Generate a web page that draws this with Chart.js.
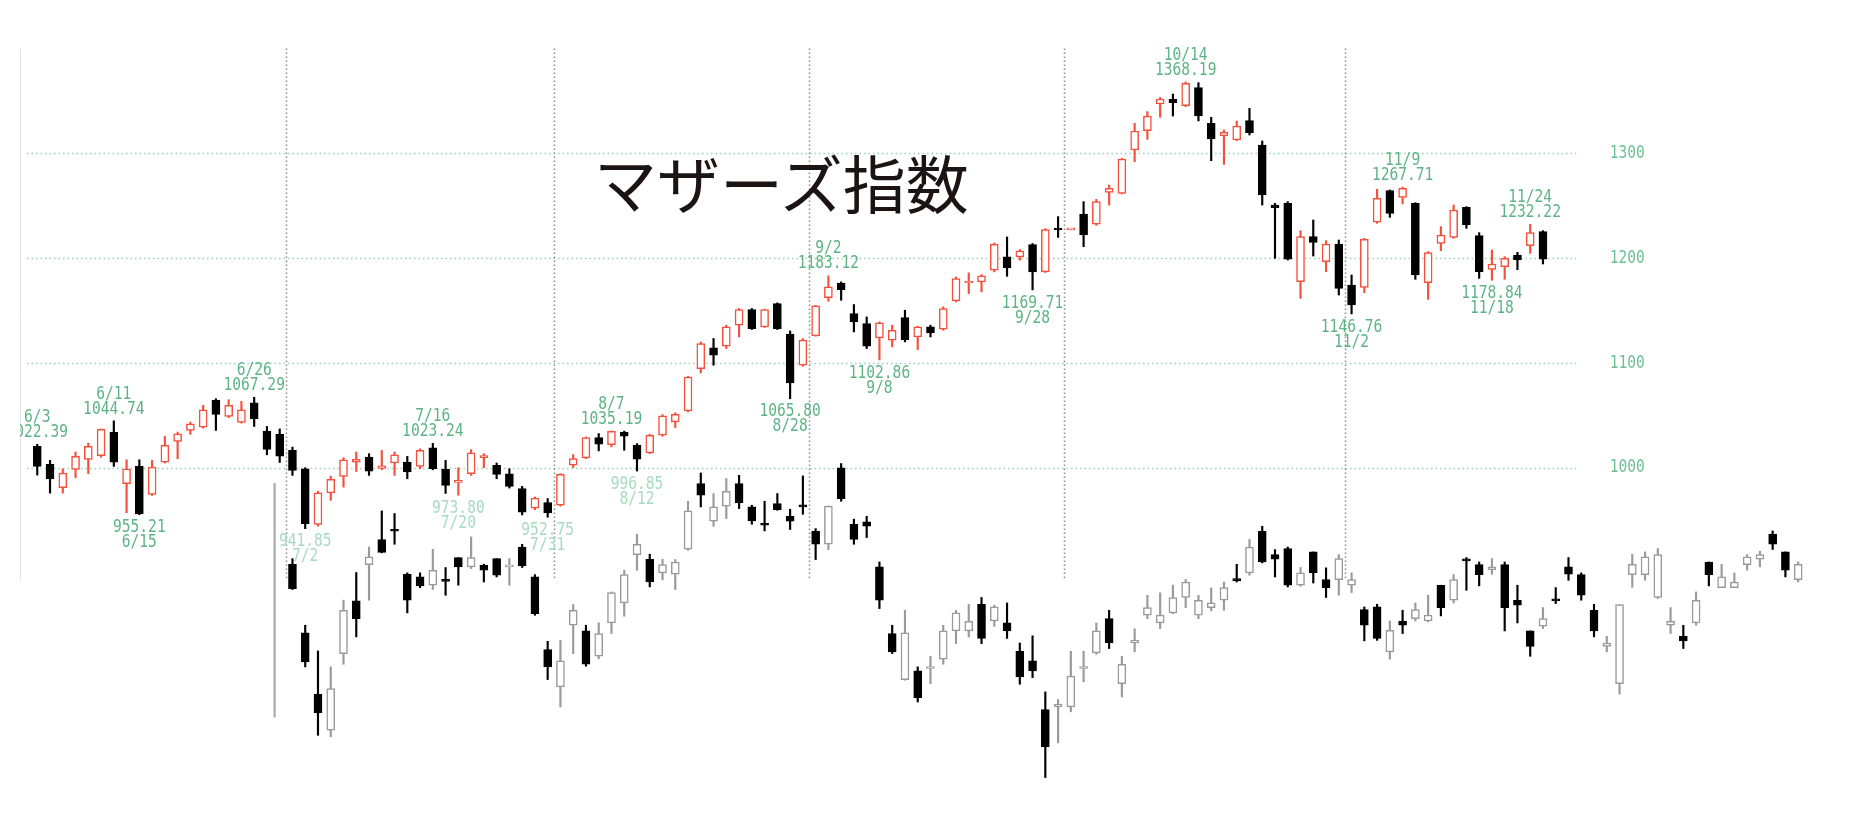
<!DOCTYPE html>
<html lang="ja">
<head>
<meta charset="utf-8">
<title>マザーズ指数</title>
<script src="https://cdn.jsdelivr.net/npm/chart.js@4.4.1/dist/chart.umd.min.js"></script>
<style>
  html, body { margin: 0; padding: 0; background: #fff; }
  #wrap { position: relative; width: 1851px; height: 816px; }
  #title {
    position: absolute; left: 594px; top: 149px;
    font: 400 63px "Noto Sans CJK JP", sans-serif; line-height: 1;
    color: #1c1414; white-space: nowrap;
  }
</style>
</head>
<body>
<div id="wrap">
  <canvas id="chart" width="1851" height="816"></canvas>
  <div id="title">マザーズ指数</div>
</div>
<script>
// マザーズ指数 日足 (2020/6/3 - 11/25)
const dates = [
  '6/3','6/4','6/5','6/8','6/9','6/10','6/11','6/12','6/15','6/16','6/17','6/18','6/19','6/22','6/23','6/24','6/25','6/26','6/29','6/30',
  '7/1','7/2','7/3','7/6','7/7','7/8','7/9','7/10','7/13','7/14','7/15','7/16','7/17','7/20','7/21','7/22','7/27','7/28','7/29','7/30','7/31',
  '8/3','8/4','8/5','8/6','8/7','8/11','8/12','8/13','8/14','8/17','8/18','8/19','8/20','8/21','8/24','8/25','8/26','8/27','8/28','8/31',
  '9/1','9/2','9/3','9/4','9/7','9/8','9/9','9/10','9/11','9/14','9/15','9/16','9/17','9/18','9/23','9/24','9/25','9/28','9/29','9/30',
  '10/1','10/2','10/5','10/6','10/7','10/8','10/9','10/12','10/13','10/14','10/15','10/16','10/19','10/20','10/21','10/22','10/23','10/26','10/27','10/28','10/29','10/30',
  '11/2','11/4','11/5','11/6','11/9','11/10','11/11','11/12','11/13','11/16','11/17','11/18','11/19','11/20','11/24','11/25'
];
const opens = [
  1020.4,1003.2,980.9,998.4,1008,1011.5,1033.7,984.7,1001.3,974.6,1005.4,1025.1,1035.6,1038.8,1064.2,1049,1043.3,1062,1035,1031.8,
  1016.5,999,946,976,991.7,1005.4,1010.2,999.4,1004.5,1005.4,1001.3,1019.1,998.4,986,994.3,1009.5,1002.2,994.3,980,961.5,966.8,
  964.2,1002.4,1009.4,1028.8,1022.1,1033.8,1021.5,1014.2,1031,1043.7,1054.2,1094.6,1114.3,1116,1136,1151,1134.4,1156.6,1127.4,1097.8,
  1125.8,1162.3,1176.3,1147,1137.6,1123.9,1121.7,1143.3,1124.8,1134.4,1132.2,1159.2,1176.3,1177.3,1188.4,1201.2,1201.2,1212.9,1186.9,1227.5,
  1227,1242.1,1232.3,1262.8,1261.8,1303.2,1321.6,1347.1,1351.5,1345.5,1362.7,1328.6,1316.5,1312.7,1331.2,1307.9,1250.7,1252.3,1177.5,1220.5,1196.6,1213.5,
  1174.4,1172.1,1234.2,1264.4,1258,1252.3,1176.6,1214.1,1219.8,1248.5,1221.4,1189.3,1191.9,1203,1211.9,1225.3
];
const highs = [
  1022.39,1007,999,1015,1023.5,1037,1044.74,1007.6,1007.6,1007,1029.9,1034,1043.6,1059.5,1065.8,1064.9,1063.3,1067.29,1039.4,1037,
  1019.7,1000,977.7,992,1009.5,1015,1013.4,1016.5,1015,1010.8,1018,1023.24,1007,1000,1017.2,1013.4,1004.5,999,982.2,972,970.6,
  994.4,1012.6,1029.4,1032.6,1035.19,1034.9,1023,1032,1050.7,1052.4,1087.3,1120,1123.3,1136,1151.9,1151.9,1151.3,1157.3,1130.5,1123.3,
  1155,1183.12,1177.3,1155.7,1143.9,1139.2,1136,1150.3,1135,1136,1153.5,1182.1,1186,1184.3,1214.5,1220.2,1208.2,1213.9,1228.2,1239.6,
  1227.5,1253.9,1256.1,1269.8,1295.2,1328.6,1339.8,1353.4,1356.6,1368.19,1367.4,1334.4,1322.3,1330.9,1342.9,1311.8,1252.3,1253.9,1226.2,1236.4,1216.7,1217.3,
  1183.9,1218.9,1265.6,1265,1267.71,1252.9,1206.2,1230,1250.7,1249.1,1224.3,1207.7,1201.4,1205.5,1232.22,1226.2
];
const lows = [
  993,975.8,975.8,990.5,994.3,1010,1001.3,957,955.21,973.6,1004.5,1008.6,1031.8,1037.8,1035.6,1047.7,1042.6,1039.4,1012.4,1005,
  992.7,941.85,944.3,968.8,981.5,996.5,992.7,998.1,992.7,989.5,999,998.1,975.5,973.8,992.7,1000,989.5,980.6,955,960,952.75,
  963.3,1000.2,1008.7,1016.1,1019.9,1016.7,996.85,1013.5,1030,1038.3,1053.3,1090.5,1097.8,1113.7,1124.8,1131.9,1133.8,1131.9,1065.8,1096.8,
  1125.5,1158.9,1159.8,1129.6,1113.7,1102.86,1115.3,1120.1,1112.7,1124.8,1131.2,1158.3,1166.2,1167.8,1186.9,1182.7,1198,1169.71,1186.3,1219.8,
  1227,1210.9,1231.3,1250.7,1261.2,1292,1313.4,1334.4,1335.6,1344.5,1330.9,1293,1289.5,1312.1,1317.5,1250.7,1199.8,1198.2,1161.6,1202,1187,1164.8,
  1146.76,1167,1233.2,1238.9,1251.7,1179.8,1160.7,1207.1,1218.9,1228.4,1180.7,1178.84,1179.8,1189,1204.6,1194.4
];
const closes = [
  1001.3,989.5,994.9,1010.8,1020.4,1036.6,1005.4,999,956,1000.6,1021.3,1032.4,1042,1055.3,1050.9,1059.5,1055.3,1046.8,1017.5,1011,
  997.5,946.6,976,988.9,1007.6,1008,996.8,1001.9,1012.4,995.9,1016.5,999,983.1,987,1014.3,1011.5,993.6,982.2,957.7,971,956.9,
  993.8,1008.7,1028.8,1022.4,1034.8,1030.1,1008.1,1031,1049.5,1051,1086.6,1118.5,1107.4,1134.4,1151,1132.8,1151,1132.8,1081,1121.7,
  1154.4,1172.5,1170,1139.2,1116,1138.2,1131.2,1122.3,1134.4,1128.7,1151.9,1180.5,1177.9,1183,1213.2,1190.7,1206.9,1186.9,1227.3,1226.8,
  1227.5,1222.1,1253.9,1266.6,1294.6,1321.3,1335.6,1351.8,1348.3,1366.8,1335.6,1313.7,1320,1326.1,1319.7,1260.2,1248.2,1198.9,1220.5,1215,1213.5,1171.2,
  1155.3,1217.9,1257.1,1242.7,1266.6,1183.9,1205.2,1222.1,1245.9,1231.6,1187.1,1194.4,1199.8,1198.2,1224.3,1198.9
];

// 注記 (高値・安値)
const notes = [
  ['6/3','high'],['6/11','high'],['6/15','low'],['6/26','high'],['7/2','low'],['7/16','high'],['7/20','low'],
  ['7/31','low'],['8/7','high'],['8/12','low'],['8/28','low'],['9/2','high'],['9/8','low'],['9/28','low'],
  ['10/14','high'],['11/2','low'],['11/9','high'],['11/18','low'],['11/24','high']
];
const yTicks = [1000, 1100, 1200, 1300];

// 重ねて写っている下側のローソク足 (目盛なし)
const subOpen = [
  907.9,842.4,783.9,749.5,822.7,872.9,907.6,931.5,940.4,898.4,895.8,887.9,893.1,914.3,905.4,907,913.3,905.4,924.4,895.8,
  826.5,790.9,849.7,844.3,820.1,851.9,871,917.1,912.7,899.7,898.4,922.2,984.9,949,963.3,984.9,962.6,946.7,965.8,953.7,
  963.6,939.4,927,999.8,946.1,948.3,905.4,841.8,797.9,806.1,808.4,817.3,844.3,844.3,869.7,853.8,851.9,824.9,815.7,769.3,
  771.8,771.8,808.4,823.3,856,794,832.8,859.3,852,861.5,876.2,859.3,866.6,873.6,894.2,899.7,939.4,917.1,922.9,887.9,
  919.7,893.3,893.3,887.9,864.7,867.2,824.3,853.8,856,853.8,887.9,873.6,912.7,907.6,902.8,907.6,873.6,844.3,848.9,874.3,
  905.4,898,864,829.6,794,898,898,876.2,849.7,839.2,851.9,910.1,885.6,885.6,907.6,912.7,936.6,919.7,893.3
];
const subHigh = [
  913.3,849.7,825.2,810,873.6,900,924.4,958.8,956.3,899.7,899.7,922.2,904.8,914.3,934,908,913.3,913.3,927,898,
  834.4,835.3,869.4,849.7,852,881.5,902.2,936.6,917.5,912.7,912.4,968,995,975.4,989.7,992.8,964.2,968,975.4,960.4,
  992.2,941.9,963.6,1004,950.9,953.7,910.1,849.7,864,810,820.1,849.7,864,869.7,876.2,868.8,871,832.8,839.6,786.1,
  778.8,824.9,824.9,851.9,864,820.1,846.4,878.3,880.6,888,893.3,878.3,885.3,891,907.9,931.5,944.2,921.9,924.4,904.8,
  919.7,904.5,917.1,899.7,867.2,869.7,853.8,864,871,878.3,887.9,898,914.3,910.1,913.3,910.1,887.9,844.3,866.6,885.6,
  914.3,899.7,869.7,839.2,869.4,917.5,919.7,922.9,866.6,849.7,881.5,910.1,907.9,899.7,917.1,920.3,939.7,919.7,910.1
];
const subLow = [
  883.8,810,744.7,743.2,812.5,838.6,873.6,918.8,927,861.5,885.6,883.8,878.3,887.9,903.8,891,895.8,887.9,904.8,859.2,
  797.9,771.7,822.7,810.6,817.9,841.8,858.3,902.2,886.3,893,883.8,921.3,962.6,944.2,951.5,961,946.1,939.7,959.4,941.1,
  955.6,912.4,921.9,968,927,933.4,865.6,822.7,797.3,776.5,794,812.5,832.2,838.6,832.2,848.7,837.1,793.4,799.8,704.4,
  737.5,767.1,795.7,822,827.5,781.3,824.3,856,846.5,860.8,866.6,856,863.4,864,891,897.4,909.2,895.8,886.3,886.9,
  890,876.2,878.3,880.9,834.8,835.3,817.3,841.8,853.8,852.9,858.6,871,883.1,887.3,898.4,844.3,851.9,820.1,846.5,870.4,
  892.6,873.6,838.6,824.3,784,885.9,892.6,875.2,841.8,827.5,849.7,887.3,885.6,885.6,902.2,905.4,922,895.8,891
];
const subClose = [
  884.7,814.8,766.1,789.3,864,856,914.9,919.1,939.4,873.6,887.2,902.2,891.6,905.4,914.3,902.2,897.4,907,906.3,860.8,
  810,815.7,864,812.5,841.8,880.9,898,926.9,891,907.6,910.1,958.8,973.8,962.6,977.5,966.5,949.3,945.1,960.1,948.9,
  962.6,927,963.3,970.6,931.5,944.2,873.6,824.3,842.4,780.7,810,844.3,861.5,853.5,837.1,867.2,844.3,800.4,806.1,733.6,
  774.4,801.1,810,844.3,832.8,812.5,835.3,866.6,859.3,876.2,891,873.6,871,885.6,892.1,924.4,910.1,912.7,887.9,899.7,
  899.7,885.6,913.3,893.3,849.7,837.1,844.9,849.7,864.7,859.3,866.6,893.3,911.1,898,905.4,866.6,868.8,829.6,856,873,
  898.4,878.3,844.3,832.8,869.4,907.9,914.9,917.1,853.5,834.8,873.6,898,895.8,891,914.9,917.1,927,902.2,907.9
];
const subStart = 20;             // 下側の足の最初の位置 (上の足の 7/1 と同じ列)
const subFrame = [762, 985];     // 下側の画像の左端の縦線

const RED = '#f4503c';
const GREEN = '#5db384';
const PALE = '#a6dbbf';
const paleNotes = ['7/2', '7/20', '7/31', '8/12'];

const upMain = i => closes[i] >= opens[i];
const upSub = i => subClose[i] >= subOpen[i];

const monthStarts = dates
  .map((d, i) => i)
  .filter(i => i > 0 && dates[i].split('/')[0] !== dates[i - 1].split('/')[0]);

function narrowText(ctx, str, x, y) {
  ctx.save();
  ctx.translate(x, y);
  ctx.scale(0.81, 1);
  ctx.fillText(str, 0, 0);
  ctx.restore();
}

const decor = {
  id: 'decor',
  beforeDatasetsDraw(chart) {
    const { ctx, scales: { x, y } } = chart;
    ctx.save();
    ctx.lineWidth = 1.5;
    // 横の点線
    ctx.strokeStyle = '#93d4b2';
    ctx.setLineDash([1.5, 3]);
    yTicks.forEach(t => {
      const py = Math.round(y.getPixelForValue(t)) + 0.5;
      ctx.beginPath();
      ctx.moveTo(x.getPixelForValue(-0.8), py);
      ctx.lineTo(x.getPixelForValue(dates.length + 1.6), py);
      ctx.stroke();
    });
    // 月の区切り
    ctx.strokeStyle = '#8a8a8a';
    ctx.setLineDash([1.5, 2.5]);
    monthStarts.forEach(i => {
      const px = Math.round(x.getPixelForValue(i - 0.5)) + 0.5;
      ctx.beginPath();
      ctx.moveTo(px, y.getPixelForValue(1400));
      ctx.lineTo(px, y.getPixelForValue(893));
      ctx.stroke();
    });
    // 左枠
    ctx.setLineDash([]);
    ctx.strokeStyle = '#e4e4e4';
    ctx.lineWidth = 1;
    const fx = Math.round(x.getPixelForValue(-1.35)) + 0.5;
    ctx.beginPath();
    ctx.moveTo(fx, y.getPixelForValue(1400));
    ctx.lineTo(fx, y.getPixelForValue(893));
    ctx.stroke();
    ctx.restore();
  },
  afterDatasetsDraw(chart) {
    const { ctx, scales: { x, y } } = chart;
    ctx.save();
    ctx.font = '18px "DejaVu Sans Mono", monospace';
    ctx.textAlign = 'center';
    ctx.textBaseline = 'middle';
    ctx.fillStyle = '#6cc093';
    yTicks.forEach(t => narrowText(ctx, String(t), x.getPixelForValue(dates.length + 5.6), y.getPixelForValue(t)));

    ctx.beginPath();
    ctx.rect(x.getPixelForValue(-1.35), 0, chart.width, chart.height);
    ctx.clip();
    notes.forEach(([d, kind]) => {
      const i = dates.indexOf(d);
      const px = x.getPixelForValue(i);
      ctx.fillStyle = paleNotes.includes(d) ? PALE : GREEN;
      if (kind === 'high') {
        const py = y.getPixelForValue(highs[i]);
        narrowText(ctx, highs[i].toFixed(2), px, py - 12);
        narrowText(ctx, d, px, py - 27);
      } else {
        const py = y.getPixelForValue(lows[i]);
        narrowText(ctx, lows[i].toFixed(2), px, py + 13);
        narrowText(ctx, d, px, py + 28);
      }
    });
    ctx.restore();
  }
};

new Chart(document.getElementById('chart'), {
  type: 'bar',
  data: {
    datasets: [
      {
        label: 'マザーズ指数',
        data: dates.map((d, i) => ({ x: i, y: [opens[i], closes[i]] })),
        backgroundColor: c => upMain(c.dataIndex) ? '#ffffff' : '#000000',
        borderColor: c => upMain(c.dataIndex) ? RED : '#000000',
        borderWidth: 1.5,
        borderSkipped: false,
        barThickness: 8,
        minBarLength: 2,
        grouped: false,
        order: 0
      },
      {
        label: 'マザーズ指数 高安',
        data: dates.map((d, i) => ({ x: i, y: [lows[i], highs[i]] })),
        backgroundColor: c => upMain(c.dataIndex) ? RED : '#000000',
        borderWidth: 0,
        barThickness: 1.5,
        grouped: false,
        order: 1
      },
      {
        label: '下側',
        data: subOpen.map((o, i) => ({ x: subStart + i, y: [o, subClose[i]] })),
        backgroundColor: c => upSub(c.dataIndex) ? '#ffffff' : '#000000',
        borderColor: c => upSub(c.dataIndex) ? '#9a9a9a' : '#000000',
        borderWidth: 1.5,
        borderSkipped: false,
        barThickness: 8,
        minBarLength: 2,
        grouped: false,
        order: 2
      },
      {
        label: '下側 高安',
        data: subOpen.map((o, i) => ({ x: subStart + i, y: [subLow[i], subHigh[i]] })),
        backgroundColor: c => upSub(c.dataIndex) ? '#9a9a9a' : '#000000',
        borderWidth: 0,
        barThickness: 1.5,
        grouped: false,
        order: 3
      },
      {
        label: '枠',
        data: [{ x: subStart - 1.4, y: subFrame }],
        backgroundColor: '#a8a8a8',
        borderWidth: 0,
        barThickness: 1.5,
        grouped: false,
        order: 4
      }
    ]
  },
  options: {
    responsive: false,
    animation: false,
    layout: { padding: 0 },
    plugins: {
      legend: { display: false },
      tooltip: { enabled: false }
    },
    scales: {
      x: { type: 'linear', display: false, offset: false, bounds: 'data', min: -2.92, max: 142.14 },
      y: { display: false, bounds: 'data', min: 667.7, max: 1446.3 }
    }
  },
  plugins: [decor]
});
</script>
</body>
</html>
